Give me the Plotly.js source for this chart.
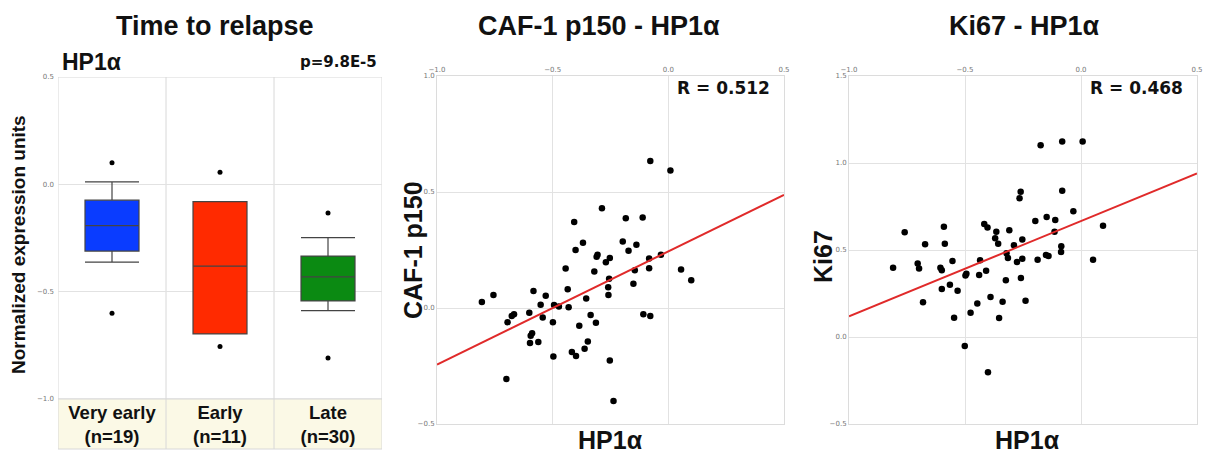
<!DOCTYPE html>
<html><head><meta charset="utf-8">
<script src="https://cdn.plot.ly/plotly-3.0.1.min.js"></script>
<style>html,body{margin:0;padding:0;background:#fff}#chart{width:1212px;height:455px}</style>
</head><body><div id="chart"></div><script>
// ---- Panel 1: Time to relapse (box plot) ----
const groupLabels = ['Very early', 'Early', 'Late'];
const groupCounts = [19, 11, 30];
const groupColors = ['#0a3cff', '#ff2a00', '#0b8a12'];
const boxQ1 = [-0.311, -0.697, -0.543];
const boxMedian = [-0.192, -0.381, -0.431];
const boxQ3 = [-0.074, -0.081, -0.334];
const boxLowerFence = [-0.362, -0.697, -0.588];
const boxUpperFence = [0.011, -0.081, -0.248];
const outlierGroup = [0, 0, 1, 1, 2, 2];
const outlierValue = [0.10, -0.60, 0.056, -0.756, -0.133, -0.809];

// ---- Panel 2: CAF-1 p150 vs HP1a ----
const cafHP1 = [-0.078,0.009,-0.287,-0.407,-0.184,-0.111,-0.369,-0.401,-0.197,-0.172,-0.138,-0.306,-0.310,-0.032,-0.083,-0.253,-0.270,-0.444,-0.320,-0.145,-0.083,0.055,-0.256,0.099,-0.151,-0.260,-0.435,-0.583,-0.259,-0.530,-0.756,-0.806,-0.355,-0.494,-0.552,-0.473,-0.431,-0.601,-0.667,-0.677,-0.336,-0.108,-0.078,-0.543,-0.695,-0.499,-0.313,-0.385,-0.589,-0.595,-0.348,-0.598,-0.562,-0.362,-0.417,-0.399,-0.497,-0.253,-0.700,-0.237];
const cafVal = [0.634,0.593,0.430,0.371,0.387,0.390,0.281,0.250,0.287,0.247,0.273,0.230,0.221,0.229,0.213,0.216,0.197,0.170,0.157,0.163,0.171,0.166,0.126,0.120,0.104,0.089,0.081,0.073,0.056,0.053,0.056,0.026,0.041,0.013,0.014,0.006,0.003,-0.021,-0.027,-0.034,-0.030,-0.027,-0.034,-0.041,-0.061,-0.061,-0.064,-0.076,-0.109,-0.120,-0.144,-0.151,-0.147,-0.176,-0.190,-0.207,-0.209,-0.226,-0.306,-0.401];
const cafFit = {slope: 0.488, intercept: 0.244, r: '0.512'};

// ---- Panel 3: Ki67 vs HP1a ----
const kiHP1 = [-0.174,-0.081,0.007,-0.081,-0.260,-0.265,-0.033,-0.148,-0.197,-0.111,0.095,-0.591,-0.417,-0.403,-0.309,-0.365,-0.760,-0.114,-0.370,-0.253,-0.672,-0.587,-0.357,-0.289,-0.085,-0.086,-0.321,-0.315,-0.253,-0.151,-0.140,-0.187,0.052,-0.435,-0.554,-0.276,-0.704,-0.810,-0.698,-0.606,-0.600,-0.409,-0.494,-0.498,-0.439,-0.259,-0.324,-0.565,-0.532,-0.600,-0.390,-0.681,-0.338,-0.239,-0.447,-0.476,-0.547,-0.353,-0.501,-0.401];
const kiVal = [1.102,1.123,1.123,0.841,0.835,0.797,0.722,0.690,0.667,0.672,0.640,0.634,0.649,0.630,0.613,0.605,0.602,0.605,0.567,0.561,0.533,0.536,0.536,0.527,0.521,0.489,0.481,0.454,0.450,0.471,0.466,0.444,0.444,0.441,0.437,0.431,0.423,0.398,0.393,0.398,0.383,0.381,0.364,0.354,0.356,0.339,0.326,0.301,0.266,0.276,0.230,0.199,0.203,0.209,0.192,0.140,0.111,0.109,-0.052,-0.203];
const kiFit = {slope: 0.547, intercept: 0.666, r: '0.468'};

const hpRange = [-1.0, 0.5];
const cafRange = [-0.5, 1.0];
const kiRange = [-0.5, 1.5];
const boxRange = [-1.0, 0.5];

const W = 1212, H = 455;
const px = v => v / W, py = v => 1 - v / H;
const TITLE_FONT = {family: 'Liberation Sans, Arial, sans-serif', size: 27, color: '#111', weight: 'bold'};
const LABEL_FONT = {family: 'Liberation Sans, Arial, sans-serif', size: 25, color: '#111', weight: 'bold'};
const TICK_FONT = {family: 'DejaVu Sans, sans-serif', size: 7, color: '#777'};
const STAT_FONT = {family: 'DejaVu Sans, Verdana, sans-serif', size: 17, color: '#111', weight: 'bold'};

const traces = [];
groupLabels.forEach((g, i) => {
  traces.push({
    type: 'box', xaxis: 'x', yaxis: 'y', x: [i],
    q1: [boxQ1[i]], median: [boxMedian[i]], q3: [boxQ3[i]],
    lowerfence: [boxLowerFence[i]], upperfence: [boxUpperFence[i]],
    width: 0.5, whiskerwidth: 1, boxpoints: false,
    fillcolor: groupColors[i], line: {color: '#444', width: 1.2},
    hoverinfo: 'skip'
  });
});
traces.push({type: 'scatter', mode: 'markers', xaxis: 'x', yaxis: 'y',
  x: outlierGroup, y: outlierValue, marker: {color: '#000', size: 5}});

traces.push({type: 'scatter', mode: 'markers', xaxis: 'x2', yaxis: 'y2',
  x: cafHP1, y: cafVal, marker: {color: '#000', size: 6.5}});
traces.push({type: 'scatter', mode: 'lines', xaxis: 'x2', yaxis: 'y2',
  x: hpRange, y: hpRange.map(v => cafFit.intercept + cafFit.slope * v),
  line: {color: '#e02a2a', width: 2}});

traces.push({type: 'scatter', mode: 'markers', xaxis: 'x3', yaxis: 'y3',
  x: kiHP1, y: kiVal, marker: {color: '#000', size: 6.5}});
traces.push({type: 'scatter', mode: 'lines', xaxis: 'x3', yaxis: 'y3',
  x: hpRange, y: hpRange.map(v => kiFit.intercept + kiFit.slope * v),
  line: {color: '#e02a2a', width: 2}});

const gridAxis = {showgrid: true, gridcolor: '#e2e2e2', gridwidth: 1, zeroline: false,
  showline: true, mirror: true, linecolor: '#dcdcdc', linewidth: 1, ticks: '',
  tickfont: TICK_FONT, tickformat: '.1f', dtick: 0.5, fixedrange: true};

const bandTop = py(399), bandBottom = py(449);

const layout = {
  width: W, height: H, margin: {l: 0, r: 0, t: 0, b: 0},
  paper_bgcolor: '#fff', plot_bgcolor: '#fff', showlegend: false,
  xaxis: {domain: [px(58), px(382)], range: [-0.5, 2.5], showgrid: false, zeroline: false,
    showline: false, ticks: '', tickvals: [0, 1, 2],
    ticktext: groupLabels.map((g, i) => g + '<br>(n=' + groupCounts[i] + ')'),
    tickfont: {family: 'Liberation Sans, Arial, sans-serif', size: 18.5, color: '#111', weight: 'bold'},
    ticklabelstandoff: 0, fixedrange: true},
  yaxis: Object.assign({}, gridAxis, {domain: [py(399), py(77)], range: boxRange,
    tickvals: [-1.0, -0.5, 0, 0.5], showline: false, ticklabelstandoff: 3}),
  xaxis2: Object.assign({}, gridAxis, {domain: [px(437), px(784)], range: hpRange, side: 'top', anchor: 'y2'}),
  yaxis2: Object.assign({}, gridAxis, {domain: [py(424), py(76)], range: cafRange, anchor: 'x2'}),
  xaxis3: Object.assign({}, gridAxis, {domain: [px(849), px(1197)], range: hpRange, side: 'top', anchor: 'y3'}),
  yaxis3: Object.assign({}, gridAxis, {domain: [py(424), py(76)], range: kiRange, anchor: 'x3'}),
  shapes: [
    {type: 'rect', xref: 'x', yref: 'paper', x0: -0.5, x1: 2.5, y0: bandBottom, y1: bandTop,
      fillcolor: '#fbf9e6', line: {color: '#d8d8d8', width: 1}, layer: 'below'},
    {type: 'rect', xref: 'x', yref: 'y', x0: -0.5, x1: 2.5, y0: boxRange[0], y1: boxRange[1],
      line: {color: '#d8d8d8', width: 1}, layer: 'below'},
    {type: 'line', xref: 'x', yref: 'paper', x0: 0.5, x1: 0.5, y0: bandBottom, y1: py(77),
      line: {color: '#d8d8d8', width: 1}, layer: 'below'},
    {type: 'line', xref: 'x', yref: 'paper', x0: 1.5, x1: 1.5, y0: bandBottom, y1: py(77),
      line: {color: '#d8d8d8', width: 1}, layer: 'below'}
  ],
  annotations: [
    {text: 'Time to relapse', xref: 'paper', yref: 'paper', x: px(215), y: py(26), showarrow: false, font: TITLE_FONT, xanchor: 'center', yanchor: 'middle'},
    {text: 'CAF-1 p150 - HP1α', xref: 'paper', yref: 'paper', x: px(599), y: py(26), showarrow: false, font: TITLE_FONT, xanchor: 'center', yanchor: 'middle'},
    {text: 'Ki67 - HP1α', xref: 'paper', yref: 'paper', x: px(1024), y: py(26), showarrow: false, font: TITLE_FONT, xanchor: 'center', yanchor: 'middle'},
    {text: 'HP1α', xref: 'paper', yref: 'paper', x: px(60), y: py(62), showarrow: false, xanchor: 'left', yanchor: 'middle',
      font: {family: 'Liberation Sans, Arial, sans-serif', size: 23, color: '#111', weight: 'bold'}},
    {text: 'p=9.8E-5', xref: 'paper', yref: 'paper', x: px(379), y: py(62), showarrow: false, xanchor: 'right', yanchor: 'middle',
      font: {family: 'DejaVu Sans, Verdana, sans-serif', size: 15, color: '#111', weight: 'bold'}},
    {text: 'Normalized expression units', xref: 'paper', yref: 'paper', x: px(18), y: py(245), showarrow: false, textangle: -90, xanchor: 'center', yanchor: 'middle',
      font: {family: 'Liberation Sans, Arial, sans-serif', size: 19, color: '#111', weight: 'bold'}},
    {text: 'CAF-1 p150', xref: 'paper', yref: 'paper', x: px(413), y: py(250), showarrow: false, textangle: -90, xanchor: 'center', yanchor: 'middle', font: LABEL_FONT},
    {text: 'Ki67', xref: 'paper', yref: 'paper', x: px(823), y: py(257), showarrow: false, textangle: -90, xanchor: 'center', yanchor: 'middle', font: LABEL_FONT},
    {text: 'HP1α', xref: 'paper', yref: 'paper', x: px(610), y: py(440), showarrow: false, xanchor: 'center', yanchor: 'middle', font: LABEL_FONT},
    {text: 'HP1α', xref: 'paper', yref: 'paper', x: px(1027), y: py(440), showarrow: false, xanchor: 'center', yanchor: 'middle', font: LABEL_FONT},
    {text: 'R = ' + cafFit.r, xref: 'paper', yref: 'paper', x: px(772), y: py(88), showarrow: false, xanchor: 'right', yanchor: 'middle', font: STAT_FONT},
    {text: 'R = ' + kiFit.r, xref: 'paper', yref: 'paper', x: px(1185), y: py(88), showarrow: false, xanchor: 'right', yanchor: 'middle', font: STAT_FONT}
  ]
};

Plotly.newPlot('chart', traces, layout, {staticPlot: true, displayModeBar: false});
</script></body></html>
